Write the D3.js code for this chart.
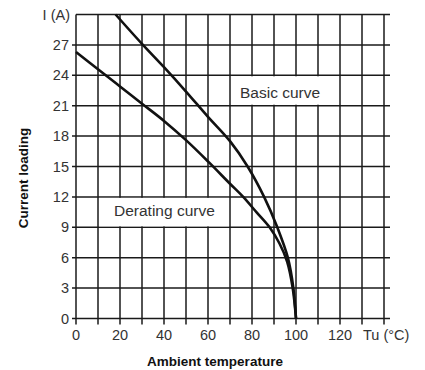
<!DOCTYPE html>
<html>
<head>
<meta charset="utf-8">
<script src="https://cdn.jsdelivr.net/npm/d3@7"></script>
<style>
  html, body { margin: 0; padding: 0; background: #fff; }
  svg { display: block; }
  text { font-family: "Liberation Sans", Arial, Helvetica, sans-serif; }
</style>
</head>
<body>
<svg id="chart" width="425" height="370"></svg>
<script>
// ---- data ----
const xTicks = [0, 20, 40, 60, 80, 100, 120];
const yTicks = [0, 3, 6, 9, 12, 15, 18, 21, 24, 27];
const xGrid = [0, 10, 20, 30, 40, 50, 60, 70, 80, 90, 100, 110, 120, 130, 140];
const yGrid = [0, 3, 6, 9, 12, 15, 18, 21, 24, 27, 30];
const xUnitLabel = "Tu (°C)";
const yUnitLabel = "I (A)";
const xTitle = "Ambient temperature";
const yTitle = "Current loading";

const basicT = [18, 30, 40, 50, 60, 70, 78, 85.5, 91.5, 96.3, 98.8, 100];
const basicI = [30, 27.1, 24.8, 22.4, 19.9, 17.5, 15, 12, 9, 6, 3, 0];
const deratingT = [0, 10, 20, 30, 40, 50, 60, 70, 76, 82, 88, 92.5, 96, 98.5, 100];
const deratingI = [26.3, 24.6, 22.9, 21.2, 19.5, 17.6, 15.5, 13.3, 12, 10.5, 9, 7.4, 5.6, 3, 0];

const labels = [
  { text: "Basic curve", t0: 70, t1: 120, i0: 21, i1: 24 },
  { text: "Derating curve", t0: 10, t1: 70, i0: 9, i1: 12 }
];

// ---- scales ----
const svg = d3.select("#chart");
const x = d3.scaleLinear().domain([0, 140]).range([76, 384]);
const y = d3.scaleLinear().domain([0, 30]).range([318.5, 14.5]);
const ink = "#1a1a1a";

// grid
const g = svg.append("g");
g.selectAll("line.h").data(yGrid).join("line")
  .attr("x1", d => d === 30 ? x(0) : x(0) - 4)
  .attr("x2", x(140) + 6)
  .attr("y1", d => y(d)).attr("y2", d => y(d))
  .attr("stroke", ink).attr("stroke-width", 1.5);
g.selectAll("line.v").data(xGrid).join("line")
  .attr("x1", d => x(d)).attr("x2", d => x(d))
  .attr("y1", y(30)).attr("y2", y(0) + 6)
  .attr("stroke", ink).attr("stroke-width", 1.5);

// label boxes (mask interior grid)
labels.forEach(l => {
  svg.append("rect")
    .attr("x", x(l.t0) + 1).attr("y", y(l.i1) + 1)
    .attr("width", x(l.t1) - x(l.t0) - 2)
    .attr("height", y(l.i0) - y(l.i1) - 2)
    .attr("fill", "#fff");
});

// curves
const line = d3.line().x(d => x(d[0])).y(d => y(d[1])).curve(d3.curveCatmullRom.alpha(0.5));
[[basicT, basicI], [deratingT, deratingI]].forEach(([ts, is]) => {
  svg.append("path")
    .datum(ts.map((t, k) => [t, is[k]]))
    .attr("d", line)
    .attr("fill", "none").attr("stroke", "#111")
    .attr("stroke-width", 2.6).attr("stroke-linejoin", "round");
});

// label texts
svg.append("text").attr("x", 240).attr("y", 97.5)
  .attr("font-size", 15.5).attr("fill", "#333").text(labels[0].text);
svg.append("text").attr("x", 114).attr("y", 215.5)
  .attr("font-size", 15.5).attr("fill", "#333").text(labels[1].text);

// tick labels
svg.selectAll("text.yt").data(yTicks).join("text")
  .attr("x", 69).attr("y", d => y(d) + 5)
  .attr("text-anchor", "end").attr("font-size", 14.5).attr("fill", "#333")
  .text(d => d);
svg.append("text").attr("x", 70).attr("y", y(30) + 5)
  .attr("text-anchor", "end").attr("font-size", 14.5).attr("fill", "#333")
  .text(yUnitLabel);
svg.selectAll("text.xt").data(xTicks).join("text")
  .attr("x", d => x(d)).attr("y", 340)
  .attr("text-anchor", "middle").attr("font-size", 14.5).attr("fill", "#333")
  .text(d => d);
svg.append("text").attr("x", 363).attr("y", 340)
  .attr("font-size", 14.5).attr("fill", "#333").text(xUnitLabel);

// titles
svg.append("text").attr("x", 215).attr("y", 366)
  .attr("text-anchor", "middle").attr("font-size", 13.5)
  .attr("font-weight", "bold").attr("fill", "#111").text(xTitle);
svg.append("text").attr("transform", "translate(28,178) rotate(-90)")
  .attr("text-anchor", "middle").attr("font-size", 13.5)
  .attr("font-weight", "bold").attr("fill", "#111").text(yTitle);
</script>
</body>
</html>
